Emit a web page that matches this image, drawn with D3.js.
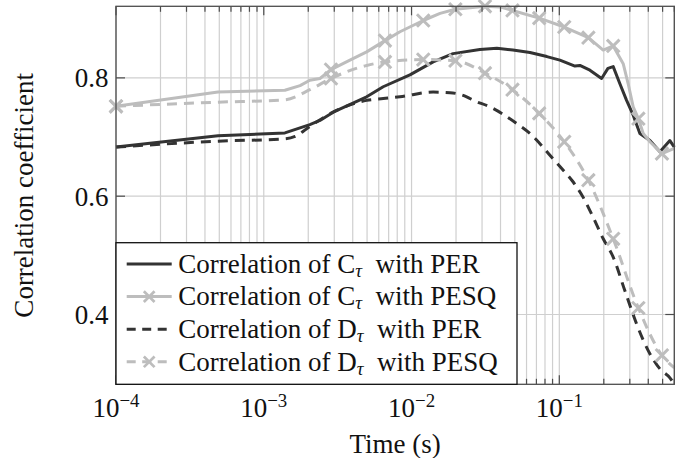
<!DOCTYPE html>
<html><head><meta charset="utf-8">
<script src="https://cdn.jsdelivr.net/npm/d3@7"></script>
<style>body{margin:0;background:#fff}</style>
</head><body><svg id="c" width="694" height="458"></svg>
<script>
// ---------------- data ----------------
const cPerT = [1e-4, 4.9e-4, 1.39e-3, 2.05e-3, 2.40e-3, 2.95e-3, 4.97e-3, 6.43e-3, 9.75e-3, 1.40e-2, 1.91e-2, 2.90e-2, 3.78e-2, 4.85e-2, 6.33e-2, 8.24e-2, 0.1009, 0.1275, 0.1378, 0.1611, 0.1933, 0.2133, 0.2316, 0.2570, 0.2853, 0.3162, 0.3510, 0.4103, 0.4796, 0.5602, 0.6];
const cPerV = [0.683, 0.702, 0.707, 0.721, 0.728, 0.742, 0.768, 0.785, 0.805, 0.827, 0.841, 0.848, 0.850, 0.847, 0.843, 0.836, 0.830, 0.820, 0.821, 0.813, 0.799, 0.816, 0.819, 0.790, 0.762, 0.737, 0.706, 0.694, 0.675, 0.694, 0.683];

const cPesqT = [1e-4, 4.9e-4, 1.39e-3, 1.76e-3, 2.05e-3, 2.40e-3, 2.85e-3, 3.83e-3, 4.97e-3, 6.61e-3, 8.35e-3, 1.20e-2, 1.56e-2, 1.98e-2, 3.14e-2, 3.96e-2, 4.82e-2, 7.31e-2, 0.108, 0.1573, 0.1982, 0.2316, 0.2706, 0.2925, 0.3162, 0.3429, 0.3697, 0.4103, 0.495, 0.6];
const cPesqV = [0.752, 0.776, 0.779, 0.787, 0.796, 0.799, 0.814, 0.830, 0.844, 0.863, 0.878, 0.897, 0.909, 0.916, 0.921, 0.920, 0.914, 0.901, 0.886, 0.868, 0.847, 0.854, 0.824, 0.790, 0.751, 0.731, 0.706, 0.692, 0.672, 0.681];
const cPesqMarks = [0, 6, 9, 11, 13, 14, 16, 17, 18, 19, 21, 25, 28];

const dPerT = [1e-4, 4.9e-4, 1.39e-3, 1.63e-3, 2.05e-3, 2.95e-3, 4.97e-3, 6.43e-3, 8.35e-3, 1.40e-2, 1.82e-2, 2.36e-2, 2.62e-2, 3.39e-2, 5.14e-2, 6.33e-2, 9.09e-2, 0.1063, 0.1242, 0.1451, 0.1696, 0.1982, 0.2316, 0.2779, 0.3334, 0.3996, 0.4796, 0.5602, 0.6];
const dPerV = [0.683, 0.693, 0.697, 0.701, 0.718, 0.742, 0.762, 0.765, 0.768, 0.776, 0.775, 0.768, 0.762, 0.751, 0.723, 0.706, 0.663, 0.644, 0.624, 0.598, 0.564, 0.528, 0.497, 0.440, 0.384, 0.339, 0.308, 0.293, 0.282];

const dPesqT = [1e-4, 4.9e-4, 1.39e-3, 2.05e-3, 2.85e-3, 4.97e-3, 6.61e-3, 1.20e-2, 1.98e-2, 3.14e-2, 4.82e-2, 7.31e-2, 0.108, 0.1573, 0.2316, 0.3429, 0.495, 0.6];
const dPesqV = [0.752, 0.759, 0.763, 0.780, 0.799, 0.821, 0.827, 0.831, 0.829, 0.808, 0.780, 0.740, 0.692, 0.627, 0.528, 0.411, 0.331, 0.310];
const dPesqMarks = [0, 4, 6, 7, 8, 9, 10, 11, 12, 13, 14, 15, 16];

const yTicks = [0.4, 0.6, 0.8];
const xTickExps = [-4, -3, -2, -1];
const legendSymbols = ["C", "C", "D", "D"];
const legendTargets = ["PER", "PESQ", "PER", "PESQ"];
const xLabel = "Time (s)";
const yLabel = "Correlation coefficient";

// ---------------- layout ----------------
const svg = d3.select("#c");
const L = 116, R = 674.3, T = 6.3, B = 384.3;
const FONT = "'Liberation Serif','Times New Roman',serif";
const FS = 27;

const x = d3.scaleLog().domain([1e-4, 0.6]).range([L, R]);
const allV = [].concat(cPerV, cPesqV, dPerV, dPesqV);
const y = d3.scaleLinear().domain(d3.extent(allV)).range([B, T]);

const DARK = "#333333", LIGHT = "#bdbdbd", GRID = "#cfcfcf", AX = "#4d4d4d";

// grid
const xt = x.ticks();
svg.append("g").selectAll("line").data(xt).join("line")
  .attr("x1", d => x(d)).attr("x2", d => x(d)).attr("y1", T).attr("y2", B)
  .attr("stroke", GRID).attr("stroke-width", 1.2);
svg.append("g").selectAll("line").data(yTicks).join("line")
  .attr("x1", L).attr("x2", R).attr("y1", d => y(d)).attr("y2", d => y(d))
  .attr("stroke", GRID).attr("stroke-width", 1.2);

// series
const series = [
  {t: cPerT, v: cPerV, color: DARK, dash: null, marks: null, curve: d3.curveLinear},
  {t: cPesqT, v: cPesqV, color: LIGHT, dash: null, marks: cPesqMarks, curve: d3.curveLinear},
  {t: dPerT, v: dPerV, color: DARK, dash: "10,7", marks: null, curve: d3.curveMonotoneX},
  {t: dPesqT, v: dPesqV, color: LIGHT, dash: "10,7", marks: dPesqMarks, curve: d3.curveMonotoneX}
];
svg.append("clipPath").attr("id", "clip").append("rect")
  .attr("x", L - 8).attr("y", T - 8).attr("width", R - L + 16).attr("height", B - T + 16);
const gS = svg.append("g").attr("clip-path", "url(#clip)");
const MS = 6.3;
const xMark = `M${-MS},${-MS}L${MS},${MS}M${-MS},${MS}L${MS},${-MS}`;
series.forEach(s => {
  const pts = s.t.map((t, i) => [x(t), y(s.v[i])]);
  gS.append("path").attr("d", d3.line().curve(s.curve)(pts))
    .attr("fill", "none").attr("stroke", s.color).attr("stroke-width", 3)
    .attr("stroke-dasharray", s.dash).attr("stroke-linejoin", "round");
  if (s.marks) {
    gS.append("g").selectAll("path").data(s.marks).join("path")
      .attr("transform", i => `translate(${pts[i][0]},${pts[i][1]})`)
      .attr("d", xMark).attr("stroke", s.color).attr("stroke-width", 3).attr("fill", "none");
  }
});

// ticks
const gT = svg.append("g").attr("stroke", AX).attr("stroke-width", 1.2);
xt.forEach(d => {
  const major = Math.abs(Math.log10(d) - Math.round(Math.log10(d))) < 1e-9;
  const len = major ? 9 : 5.5;
  gT.append("line").attr("x1", x(d)).attr("x2", x(d)).attr("y1", B).attr("y2", B - len);
  gT.append("line").attr("x1", x(d)).attr("x2", x(d)).attr("y1", T).attr("y2", T + len);
});
yTicks.forEach(d => {
  gT.append("line").attr("x1", L).attr("x2", L + 9).attr("y1", y(d)).attr("y2", y(d));
  gT.append("line").attr("x1", R).attr("x2", R - 9).attr("y1", y(d)).attr("y2", y(d));
});
// frame
svg.append("rect").attr("x", L).attr("y", T).attr("width", R - L).attr("height", B - T)
  .attr("fill", "none").attr("stroke", AX).attr("stroke-width", 1.3);

function txt(xp, yp, anchor, extra) {
  return svg.append("text").attr("transform", `translate(${xp},${yp})` + (extra || ""))
    .attr("font-family", FONT).attr("font-size", FS).attr("fill", "#111").attr("text-anchor", anchor);
}
// y tick labels
yTicks.forEach(d => { txt(108.5, y(d) + 9.5, "end").text(d3.format(".1f")(d)); });
// x tick labels
xTickExps.forEach(e => {
  const t = txt(x(Math.pow(10, e)), 417, "middle");
  t.append("tspan").text("10");
  t.append("tspan").attr("font-size", FS * 0.7).attr("dy", -10).text("\u2212" + Math.abs(e));
});
// axis labels
txt((L + R) / 2, 453, "middle").text(xLabel);
txt(33, (T + B) / 2, "middle", " rotate(-90)").text(yLabel);

// legend
const lg = svg.append("g");
const LX = L, LY = 242.7, LW = 401, LH = B - LY;
lg.append("rect").attr("x", LX).attr("y", LY).attr("width", LW).attr("height", LH)
  .attr("fill", "#fff").attr("stroke", "#111").attr("stroke-width", 1.3);
series.forEach((s, i) => {
  const cy = 264 + i * 32.6;
  lg.append("line").attr("x1", 126.7).attr("x2", 171.7).attr("y1", cy).attr("y2", cy)
    .attr("stroke", s.color).attr("stroke-width", 3).attr("stroke-dasharray", s.dash ? "9,6.5" : null);
  if (s.marks) lg.append("path").attr("transform", `translate(149.2,${cy}) scale(0.85)`).attr("d", xMark)
    .attr("stroke", s.color).attr("stroke-width", 3.2).attr("fill", "none");
  const t = txt(178.3, cy + 8.8, "start");
  t.append("tspan").text("Correlation of " + legendSymbols[i]);
  t.append("tspan").attr("font-size", FS * 0.7).attr("font-style", "italic").attr("dy", 4).text("\u03c4");
  t.append("tspan").attr("dy", -4).text("\u2002with " + legendTargets[i]);
});
</script></body></html>
